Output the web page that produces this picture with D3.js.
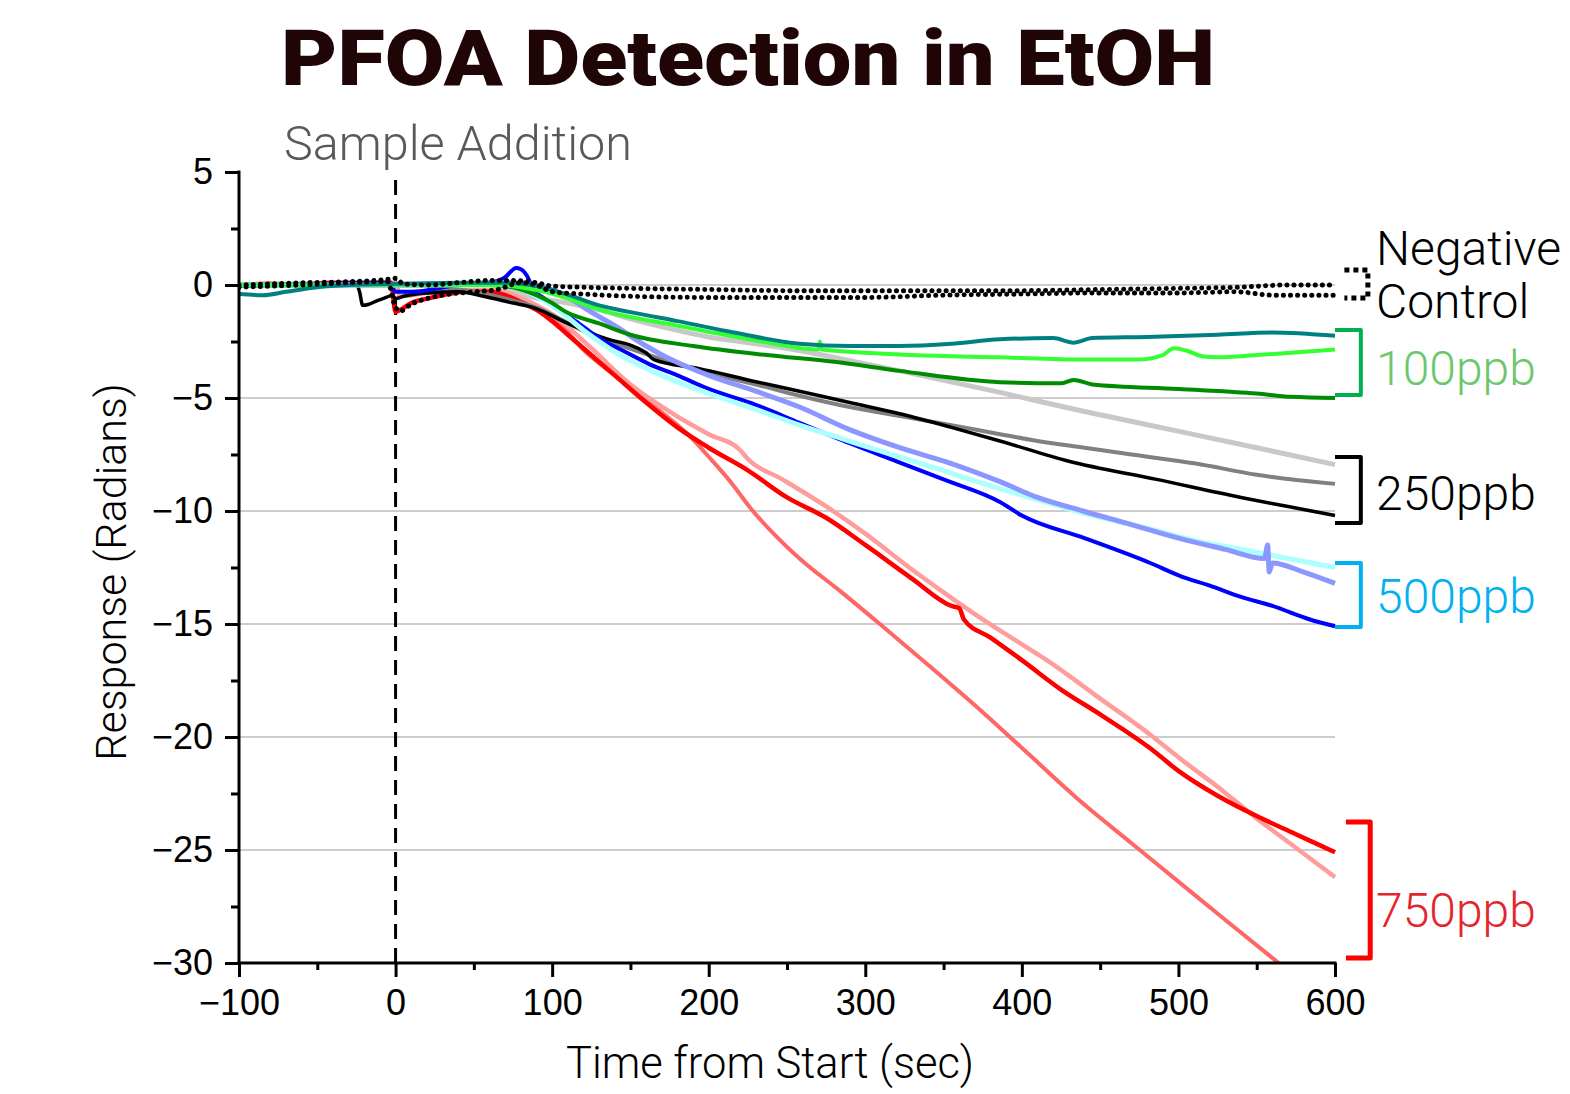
<!DOCTYPE html>
<html>
<head>
<meta charset="utf-8">
<script src="https://cdn.jsdelivr.net/npm/d3@7"></script>
<style>
  body { margin: 0; background: #fff; }
  svg { display: block; }
</style>
</head>
<body>
<svg width="1570" height="1094"></svg>
<script>
"use strict"

// время (с) и отклик (рад)
const negCtrlA = [[-100,0],[-60,0.1],[-30,0.15],[-5,0.25],[0,0.3],[5,0.05],[20,0.0],[40,0.1],[60,0.2],[75,0.2],[90,0.1],[100,-0.05],[120,-0.1],[150,-0.15],[200,-0.2],[250,-0.25],[300,-0.25],[350,-0.25],[400,-0.25],[450,-0.2],[500,-0.15],[537,-0.1],[570,0.0],[600,0.0]]
const negCtrlB = [[-100,-0.1],[-60,0.0],[-30,0.1],[-5,0.15],[0,-1.0],[3,-1.15],[10,-0.85],[20,-0.6],[35,-0.4],[50,-0.3],[65,-0.2],[80,0.1],[90,0.0],[100,-0.3],[120,-0.4],[150,-0.5],[200,-0.55],[250,-0.55],[300,-0.55],[350,-0.45],[400,-0.4],[450,-0.35],[500,-0.35],[537,-0.3],[560,-0.45],[600,-0.45]]

const ppb100teal = [[-100,-0.4],[-85,-0.45],[-70,-0.3],[-50,-0.1],[-30,0.0],[0,0.05],[40,0.1],[70,0.1],[90,-0.05],[109,-0.4],[130,-0.9],[150,-1.2],[180,-1.6],[216,-2.1],[258,-2.6],[290,-2.7],[322,-2.7],[355,-2.6],[386,-2.4],[420,-2.35],[433,-2.55],[445,-2.35],[480,-2.3],[525,-2.2],[560,-2.1],[600,-2.25]]
const ppb100lime = [[-100,0],[0,0],[60,0],[80,-0.1],[95,-0.3],[110,-0.6],[131,-1.1],[180,-1.8],[226,-2.4],[270,-2.85],[271,-2.5],[272,-2.85],[279,-2.9],[330,-3.1],[386,-3.2],[440,-3.3],[474,-3.3],[490,-3.1],[497,-2.8],[505,-2.9],[515,-3.15],[525,-3.2],[550,-3.1],[572,-3.0],[600,-2.85]]
const ppb100green = [[-100,0],[0,0],[60,0],[80,-0.2],[100,-0.8],[109,-1.2],[130,-1.7],[150,-2.2],[190,-2.7],[237,-3.1],[280,-3.4],[322,-3.8],[386,-4.3],[425,-4.35],[433,-4.2],[445,-4.4],[500,-4.6],[550,-4.8],[572,-4.95],[600,-5.0]]

const ppb250light = [[-100,0],[0,0],[50,0.05],[70,-0.1],[86,-0.5],[110,-0.8],[130,-1.1],[150,-1.5],[173,-1.9],[200,-2.3],[230,-2.6],[258,-2.9],[290,-3.35],[322,-3.8],[386,-4.75],[440,-5.6],[502,-6.5],[550,-7.2],[600,-7.95]]
const ppb250gray = [[-100,0],[0,0],[30,-0.1],[50,-0.3],[70,-0.6],[90,-1.0],[122,-2.1],[162,-3.1],[200,-3.9],[230,-4.4],[258,-4.9],[290,-5.4],[322,-5.8],[355,-6.2],[386,-6.6],[410,-6.9],[440,-7.2],[470,-7.5],[511,-7.9],[550,-8.4],[600,-8.8]]
const ppb250black = [[-100,0],[-50,0.05],[-25,0.05],[-23,-0.3],[-21,-0.9],[-17,-0.85],[-12,-0.7],[-6,-0.55],[-2,-0.45],[0,-0.6],[5,-0.5],[20,-0.35],[40,-0.3],[56,-0.5],[75,-0.8],[88,-1.0],[110,-1.7],[131,-2.3],[160,-3.0],[165,-3.3],[194,-3.7],[225,-4.2],[258,-4.7],[290,-5.2],[322,-5.7],[355,-6.3],[386,-6.9],[430,-7.8],[486,-8.6],[540,-9.4],[570,-9.8],[600,-10.2]]

const ppb500cyan = [[-100,0],[0,0],[60,0.0],[80,-0.2],[100,-0.9],[120,-2.0],[141,-3.0],[170,-4.0],[200,-4.8],[230,-5.5],[258,-6.2],[285,-6.8],[312,-7.4],[345,-8.1],[376,-8.8],[410,-9.5],[440,-10.1],[482,-10.8],[510,-11.3],[540,-11.7],[570,-12.1],[600,-12.5]]
const ppb500violet = [[-100,0],[0,0],[40,0.05],[80,0.1],[95,-0.1],[109,-0.5],[125,-1.2],[140,-1.8],[160,-2.7],[173,-3.2],[200,-4.0],[230,-4.7],[258,-5.4],[290,-6.4],[322,-7.2],[355,-7.9],[386,-8.7],[410,-9.4],[439,-10.0],[470,-10.6],[500,-11.2],[530,-11.7],[555,-12.1],[557,-11.5],[558,-12.7],[560,-12.3],[580,-12.7],[600,-13.2]]
const ppb500blue = [[-100,-0.05],[-50,0.05],[-5,0.1],[0,-0.3],[10,-0.3],[40,0.0],[60,0.1],[70,0.35],[77,0.75],[80,0.7],[84,0.4],[88,-0.2],[95,-0.6],[100,-0.9],[115,-1.6],[131,-2.4],[145,-2.9],[162,-3.5],[180,-4.0],[200,-4.6],[230,-5.3],[258,-6.1],[290,-7.0],[320,-7.8],[350,-8.6],[386,-9.6],[400,-10.2],[440,-11.2],[482,-12.3],[502,-12.9],[520,-13.3],[540,-13.8],[560,-14.2],[584,-14.8],[600,-15.1]]

const ppb750salmon = [[-100,0],[0,0.1],[3,-0.5],[20,-0.35],[50,-0.25],[70,-0.4],[85,-0.8],[100,-1.4],[122,-3.0],[140,-4.0],[160,-5.1],[188,-6.7],[200,-7.6],[215,-8.8],[227,-9.9],[240,-10.9],[258,-12.1],[285,-13.6],[311,-15.1],[340,-16.8],[375,-18.9],[405,-20.8],[435,-22.7],[470,-24.7],[500,-26.4],[530,-28.1],[564,-30.0],[600,-32.0]]
const ppb750pink = [[-100,0],[-50,0.05],[0,0.1],[3,-0.5],[10,-0.4],[30,-0.25],[60,-0.2],[75,-0.4],[90,-0.9],[100,-1.3],[125,-2.8],[150,-4.4],[175,-5.6],[200,-6.6],[220,-7.3],[225,-7.7],[247,-8.6],[275,-9.8],[300,-11.0],[330,-12.6],[350,-13.6],[375,-14.8],[400,-15.9],[418,-16.7],[450,-18.3],[482,-19.9],[500,-20.9],[525,-22.2],[550,-23.6],[575,-24.9],[600,-26.2]]
const ppb750red = [[-100,0.0],[-80,0.05],[-60,0.0],[-40,0.1],[-20,0.1],[-3,0.1],[0,-1.2],[3,-1.1],[10,-0.8],[20,-0.6],[30,-0.45],[45,-0.3],[60,-0.3],[70,-0.45],[80,-0.75],[90,-1.1],[100,-1.6],[110,-2.2],[120,-2.8],[140,-4.0],[160,-5.2],[180,-6.3],[200,-7.2],[225,-8.2],[250,-9.4],[275,-10.3],[300,-11.5],[330,-13.0],[355,-14.2],[360,-14.3],[363,-14.8],[380,-15.6],[400,-16.6],[425,-17.9],[450,-19.0],[482,-20.5],[500,-21.5],[525,-22.6],[550,-23.5],[575,-24.3],[600,-25.1]]

// подписи осей
const xTicks = [-100, 0, 100, 200, 300, 400, 500, 600]
const xMinor = [-50, 50, 150, 250, 350, 450, 550]
const yTicks = [5, 0, -5, -10, -15, -20, -25, -30]
const yMinor = [2.5, -2.5, -7.5, -12.5, -17.5, -22.5, -27.5]
const yGrid = [0, -5, -10, -15, -20, -25]

// группы (скобка справа): имя, верх и низ скобки в радианах, базовая линия подписи
const groupNames = ["Negative\nControl", "100ppb", "250ppb", "500ppb", "750ppb"]
const groupTop = [0.66, -1.99, -7.61, -12.3, -23.76]
const groupBottom = [-0.58, -4.87, -10.53, -15.13, -29.78]
const groupLabelY = [-1.46, -4.42, -9.95, -14.5, -28.4]

// стили линий (порядок = порядок отрисовки)
const series = [
    { data: ppb750salmon, color: "#ff6666", w: 4 },
    { data: ppb750pink,   color: "#ff9c9c", w: 4.5 },
    { data: ppb750red,    color: "#ff0000", w: 4.5 },
    { data: ppb250light,  color: "#c8c8c8", w: 5 },
    { data: ppb250gray,   color: "#808080", w: 4 },
    { data: ppb250black,  color: "#000000", w: 3.5 },
    { data: ppb500blue,   color: "#0000ff", w: 4 },
    { data: ppb500cyan,   color: "#aaffff", w: 5 },
    { data: ppb500violet, color: "#8c96ff", w: 5 },
    { data: ppb100green,  color: "#008c00", w: 4 },
    { data: ppb100lime,   color: "#33ff33", w: 4 },
    { data: ppb100teal,   color: "#008080", w: 4 },
    { data: negCtrlA,     color: "#000000", w: 5, dotted: true },
    { data: negCtrlB,     color: "#000000", w: 5, dotted: true }
]
const groupStyle = [
    { color: "#000000", text: "#000000", dotted: true, x0: 606, x1: 621 },
    { color: "#00b050", text: "#6cc66c", x0: 600, x1: 616.5 },
    { color: "#000000", text: "#000000", x0: 600, x1: 616.5 },
    { color: "#00b0f0", text: "#00b0f0", x0: 600, x1: 616.5 },
    { color: "#ff0000", text: "#e3262e", x0: 607, x1: 622.5 }
]

const svg = d3.select("svg")
const area = { left: 239, right: 1335, top: 172, bottom: 963 }

const scX = d3.scaleLinear().domain([-100, 600]).range([area.left, area.right])
const scY = d3.scaleLinear().domain([-30, 5]).range([area.bottom, area.top])

// сетка
svg.append("g")
    .selectAll("line")
    .data(yGrid)
    .enter()
    .append("line")
    .attr("x1", area.left)
    .attr("x2", area.right)
    .attr("y1", d => scY(d))
    .attr("y2", d => scY(d))
    .style("stroke", "#bcbcbc")
    .style("stroke-width", 1.5)

// линия добавления пробы
svg.append("line")
    .attr("x1", scX(0)).attr("x2", scX(0))
    .attr("y1", 180).attr("y2", area.bottom)
    .style("stroke", "#000")
    .style("stroke-width", 3)
    .style("stroke-dasharray", "15,9")

svg.append("clipPath")
    .attr("id", "plot-clip")
    .append("rect")
    .attr("x", area.left)
    .attr("y", area.top)
    .attr("width", area.right - area.left + 3)
    .attr("height", area.bottom - area.top)

const lineF = d3.line()
    .x(d => scX(d[0]))
    .y(d => scY(d[1]))
    .curve(d3.curveMonotoneX)

const plot = svg.append("g").attr("clip-path", "url(#plot-clip)")
series.forEach(s => {
    const p = plot.append("path")
        .datum(s.data)
        .attr("d", lineF)
        .style("fill", "none")
        .style("stroke", s.color)
        .style("stroke-width", s.w)
        .style("stroke-linejoin", "round")
    if (s.dotted) {
        p.style("stroke-dasharray", "0.1,7").style("stroke-linecap", "round")
    }
})

// оси
const tickFont = "'Liberation Sans', Arial, sans-serif"

function drawAxis(axis, transform) {
    const g = svg.append("g")
        .attr("transform", transform)
        .call(axis)
    g.select(".domain").remove()
    g.selectAll(".tick line").style("stroke", "#000").style("stroke-width", 3)
    g.selectAll("text")
        .style("font-family", tickFont)
        .style("font-size", "36px")
        .style("fill", "#000")
    return g
}

drawAxis(d3.axisLeft(scY).tickValues(yTicks).tickSize(14).tickPadding(12).tickFormat(d3.format("d")),
    `translate(${area.left},0)`)
drawAxis(d3.axisLeft(scY).tickValues(yMinor).tickSize(8).tickFormat(""),
    `translate(${area.left},0)`)
drawAxis(d3.axisBottom(scX).tickValues(xTicks).tickSize(14).tickPadding(12).tickFormat(d3.format("d")),
    `translate(0,${area.bottom})`)
drawAxis(d3.axisBottom(scX).tickValues(xMinor).tickSize(7).tickFormat(""),
    `translate(0,${area.bottom})`)

svg.append("line")
    .attr("x1", area.left).attr("x2", area.left)
    .attr("y1", area.top - 1.5).attr("y2", area.bottom + 1.5)
    .style("stroke", "#000").style("stroke-width", 3)
svg.append("line")
    .attr("x1", area.left - 1.5).attr("x2", area.right + 1.5)
    .attr("y1", area.bottom).attr("y2", area.bottom)
    .style("stroke", "#000").style("stroke-width", 3)

// скобки групп и подписи
const labelFont = "Roboto, 'Open Sans', sans-serif"
groupNames.forEach((name, i) => {
    const st = groupStyle[i]
    const xa = scX(st.x0), xb = scX(st.x1)
    const ya = scY(groupTop[i]), yb = scY(groupBottom[i])
    const br = svg.append("path")
        .attr("d", `M${xa},${ya} H${xb} V${yb} H${xa}`)
        .style("fill", "none")
        .style("stroke", st.color)
        .style("stroke-width", i == 4 ? 5 : 4)
        .style("stroke-linejoin", "round")
    if (st.dotted) {
        br.style("stroke-dasharray", "5,4").style("stroke-width", 5)
    }
    const lines = name.split("\n")
    const t = svg.append("text")
        .attr("x", 1376)
        .attr("y", scY(groupLabelY[i]))
        .style("font-family", labelFont)
        .style("font-weight", 300)
        .style("font-size", "48px")
        .style("fill", st.text)
    if (lines.length == 1) {
        t.text(name)
    } else {
        t.attr("y", scY(groupLabelY[i]) - 53)
        lines.forEach((ln, k) => {
            t.append("tspan").attr("x", 1376).attr("dy", k == 0 ? 0 : 53).text(ln)
        })
    }
})

// заголовки
svg.append("text")
    .attr("x", 281)
    .attr("y", 85)
    .attr("textLength", 934)
    .attr("lengthAdjust", "spacingAndGlyphs")
    .style("font-family", "Roboto, sans-serif")
    .style("font-weight", 900)
    .style("font-size", "77px")
    .style("fill", "#1f0505")
    .text("PFOA Detection in EtOH")

svg.append("text")
    .attr("x", 284)
    .attr("y", 160)
    .style("font-family", labelFont)
    .style("font-weight", 300)
    .style("font-size", "48.5px")
    .style("fill", "#595959")
    .text("Sample Addition")

svg.append("text")
    .attr("x", 770)
    .attr("y", 1078)
    .attr("text-anchor", "middle")
    .style("font-family", labelFont)
    .style("font-weight", 300)
    .style("font-size", "43.5px")
    .style("fill", "#000")
    .text("Time from Start (sec)")

svg.append("text")
    .attr("transform", `translate(126,572) rotate(-90)`)
    .attr("text-anchor", "middle")
    .style("font-family", labelFont)
    .style("font-weight", 300)
    .style("font-size", "43px")
    .style("fill", "#000")
    .text("Response (Radians)")
</script>
</body>
</html>
